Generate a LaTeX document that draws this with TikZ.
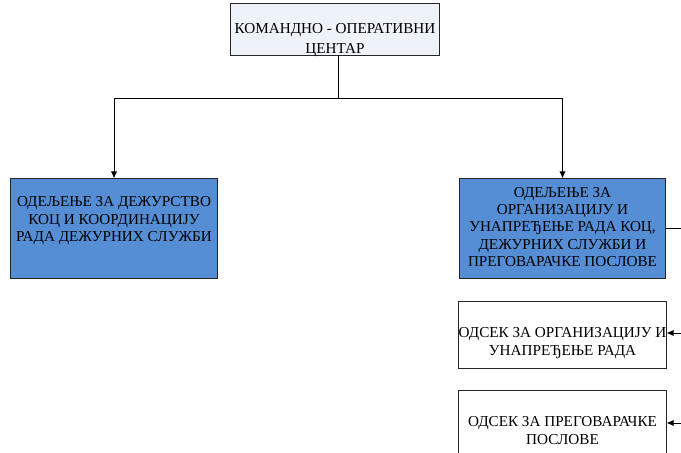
\documentclass[tikz,border=0pt]{standalone}
\usepackage{fontspec}
\setmainfont{Liberation Serif}
\usetikzlibrary{arrows.meta, positioning}
\definecolor{centerfill}{RGB}{238,242,249}
\definecolor{deptblue}{RGB}{85,142,213}
% centred lines, moved up or down inside the box
\newcommand{\boxlines}[2]{\raisebox{#1}[\height][\depth]{\begin{tabular}{@{}c@{}}#2\end{tabular}}}

\begin{document}
\begin{tikzpicture}[x=0.025cm, y=-0.025cm, line width=0.7pt, >={Latex[length=5pt,width=4.5pt]}]
    % Styles
    \tikzstyle{unit}=[draw=black!85, inner sep=0pt, font=\fontsize{10.8}{12.3}\selectfont]
    \tikzstyle{dept}=[unit, fill=deptblue, minimum width=5.15cm, minimum height=2.475cm]
    \tikzstyle{sect}=[unit, fill=white, minimum width=5.175cm, minimum height=1.675cm]

    \useasboundingbox (0,0) rectangle (681,452);
    \clip (0,0) rectangle (681,452);

    % Center
    \node[unit, fill=centerfill, minimum width=5.2cm, minimum height=1.275cm] (koc) at (335,29.5) {\boxlines{-7.5pt}{КОМАНДНО - ОПЕРАТИВНИ\\[2pt]ЦЕНТАР}};

    % Departments
    \node[dept] (dezurstvo) at (114,228.5) {\boxlines{5.5pt}{ОДЕЉЕЊЕ ЗА ДЕЖУРСТВО\\КОЦ И КООРДИНАЦИЈУ\\РАДА ДЕЖУРНИХ СЛУЖБИ}};
    \node[dept] (organizacija) at (562.5,228.5) {\boxlines{0pt}{ОДЕЉЕЊЕ ЗА\\ОРГАНИЗАЦИЈУ И\\УНАПРЕЂЕЊЕ РАДА КОЦ,\\ДЕЖУРНИХ СЛУЖБИ И\\ПРЕГОВАРАЧКЕ ПОСЛОВЕ}};

    % Sections
    \node[sect] (odsekrad) at (562.5,334.5) {\boxlines{-6pt}{\makebox[5cm]{ОДСЕК ЗА ОРГАНИЗАЦИЈУ И}\\УНАПРЕЂЕЊЕ РАДА}};
    \node[sect] (odsekpreg) at (562.5,423.5) {\boxlines{-6pt}{ОДСЕК ЗА ПРЕГОВАРАЧКЕ\\ПОСЛОВЕ}};

    % Arrows
    \coordinate (split) at (338,98);
    \coordinate (railtop) at (681,228.5);
    \coordinate (railrad) at (681,333);
    \coordinate (railpreg) at (681,423);
    \draw (koc.south -| split) -- (split);
    \draw[->] (split) -| (dezurstvo.north);
    \draw[->] (split) -| (organizacija.north);
    \draw (organizacija.east) -- (railtop);
    \draw[->] (railrad) -- (odsekrad.east |- railrad);
    \draw[->] (railpreg) -- (odsekpreg.east |- railpreg);
\end{tikzpicture}
\end{document}
